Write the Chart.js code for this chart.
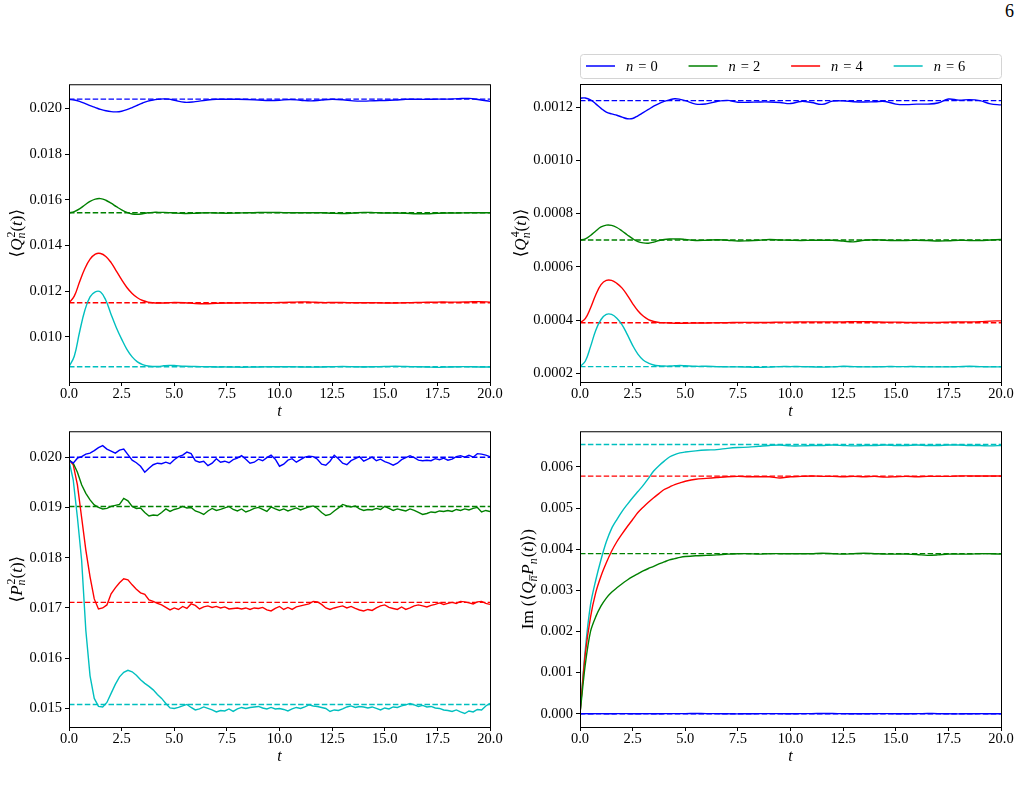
<!DOCTYPE html>
<html><head><meta charset="utf-8">
<script src="https://cdn.jsdelivr.net/npm/chart.js@4.4.1/dist/chart.umd.min.js"></script>
<style>
html,body{margin:0;padding:0;background:#fff}
body{width:1024px;height:798px;overflow:hidden;position:relative;font-family:'Liberation Serif','DejaVu Serif',serif}
canvas{position:absolute}
#pg{position:absolute;left:1005px;top:1px;font-size:18px;line-height:20px;color:#000}
</style></head><body>
<div id="pg">6</div>
<canvas id="cA" style="left:0;top:74px;width:510px;height:350px" width="510" height="350"></canvas>
<canvas id="cB" style="left:511px;top:44px;width:513px;height:380px" width="513" height="380"></canvas>
<canvas id="cC" style="left:0;top:421px;width:510px;height:348px" width="510" height="348"></canvas>
<canvas id="cD" style="left:511px;top:421px;width:513px;height:348px" width="513" height="348"></canvas>
<script>
// ---------- data ----------
const nValues = [0, 2, 4, 6];
const colors = ['#0000ff', '#008000', '#ff0000', '#00bfbf'];
const xTicks = [0, 2.5, 5, 7.5, 10, 12.5, 15, 17.5, 20];
const yTicksQ2 = [0.010, 0.012, 0.014, 0.016, 0.018, 0.020];
const yTicksQ4 = [0.0002, 0.0004, 0.0006, 0.0008, 0.0010, 0.0012];
const yTicksP2 = [0.015, 0.016, 0.017, 0.018, 0.019, 0.020];
const yTicksIm = [0.000, 0.001, 0.002, 0.003, 0.004, 0.005, 0.006];

const tSmooth = [0,0.25,0.5,0.75,1,1.25,1.5,1.75,2,2.25,2.5,2.75,3,3.25,3.5,3.75,4,4.25,4.5,4.75,5,
  5.5,6,6.5,7,7.5,8,8.5,9,9.5,10,10.5,11,11.5,12,12.5,13,13.5,14,14.5,15,15.5,16,16.5,17,17.5,18,18.5,19,19.5,20];
const tNoisy = [0,0.2,0.4,0.6,0.8,1,1.2,1.4,1.6,1.8,2,2.2,2.4,2.6,2.8,3,3.2,3.4,3.6,3.8,
  4,4.2,4.4,4.6,4.8,5,5.2,5.4,5.6,5.8,6,6.2,6.4,6.6,6.8,7,7.2,7.4,7.6,7.8,
  8,8.2,8.4,8.6,8.8,9,9.2,9.4,9.6,9.8,10,10.2,10.4,10.6,10.8,11,11.2,11.4,11.6,11.8,
  12,12.2,12.4,12.6,12.8,13,13.2,13.4,13.6,13.8,14,14.2,14.4,14.6,14.8,15,15.2,15.4,15.6,15.8,
  16,16.2,16.4,16.6,16.8,17,17.2,17.4,17.6,17.8,18,18.2,18.4,18.6,18.8,19,19.2,19.4,19.6,19.8,20];

// <Q_n^2(t)>
const q2n0 = [0.02039,0.02037,0.02031,0.02022,0.02012,0.02004,0.01996,0.01990,0.01986,0.01985,0.01988,0.01995,0.02004,0.02014,0.02024,0.02032,0.02037,0.02040,0.02042,0.02041,0.02036,
  0.02027,0.02030,0.02036,0.02040,0.02040,0.02040,0.02039,0.02037,0.02035,0.02036,0.02039,0.02036,0.02033,0.02037,0.02040,0.02038,0.02033,0.02032,0.02034,0.02035,0.02037,0.02040,0.02040,0.02040,0.02041,0.02041,0.02043,0.02044,0.02038,0.02031];
const q2n2 = [0.01543,0.01548,0.01560,0.01577,0.01593,0.01603,0.01605,0.01598,0.01585,0.01570,0.01556,0.01545,0.01538,0.01536,0.01539,0.01543,0.01545,0.01545,0.01545,0.01544,0.01542,
  0.01540,0.01541,0.01543,0.01542,0.01541,0.01542,0.01543,0.01544,0.01545,0.01544,0.01543,0.01543,0.01543,0.01543,0.01541,0.01540,0.01542,0.01545,0.01544,0.01542,0.01542,0.01541,0.01539,0.01539,0.01541,0.01542,0.01542,0.01543,0.01543,0.01543];
const q2n4 = [0.01149,0.01178,0.01240,0.01298,0.01340,0.01362,0.01365,0.01352,0.01325,0.01288,0.01250,0.01216,0.01190,0.01171,0.01159,0.01152,0.01149,0.01148,0.01148,0.01149,0.01150,
  0.01149,0.01146,0.01145,0.01147,0.01148,0.01148,0.01149,0.01149,0.01149,0.01150,0.01151,0.01153,0.01152,0.01150,0.01150,0.01150,0.01149,0.01149,0.01149,0.01148,0.01148,0.01149,0.01150,0.01151,0.01152,0.01152,0.01152,0.01153,0.01154,0.01152];
const q2n6 = [0.00869,0.00915,0.01020,0.01115,0.01175,0.01197,0.01196,0.01160,0.01098,0.01040,0.00990,0.00945,0.00912,0.00890,0.00878,0.00872,0.00870,0.00870,0.00873,0.00875,0.00874,
  0.00871,0.00870,0.00869,0.00868,0.00868,0.00867,0.00867,0.00868,0.00869,0.00869,0.00869,0.00868,0.00867,0.00868,0.00869,0.00870,0.00869,0.00868,0.00869,0.00870,0.00871,0.00870,0.00869,0.00868,0.00866,0.00868,0.00869,0.00869,0.00868,0.00868];
const q2Ref = [0.02041, 0.01543, 0.01149, 0.00869];

// <Q_n^4(t)>
const q4n0 = [0.001234,0.001235,0.001228,0.001213,0.001196,0.001182,0.001175,0.001170,0.001163,0.001157,0.001158,0.001168,0.001180,0.001192,0.001204,0.001214,0.001222,0.001228,0.001232,0.001230,0.001225,
  0.001212,0.001213,0.001222,0.001226,0.001219,0.001219,0.001220,0.001220,0.001218,0.001214,0.001222,0.001218,0.001211,0.001223,0.001224,0.001221,0.001220,0.001221,0.001222,0.001212,0.001210,0.001212,0.001212,0.001216,0.001231,0.001227,0.001229,0.001225,0.001213,0.001209];
const q4n2 = [0.000701,0.000705,0.000718,0.000735,0.000750,0.000757,0.000756,0.000748,0.000735,0.000720,0.000706,0.000695,0.000690,0.000689,0.000693,0.000699,0.000703,0.000705,0.000705,0.000705,0.000703,
  0.000699,0.000700,0.000702,0.000700,0.000697,0.000698,0.000700,0.000703,0.000701,0.000700,0.000699,0.000700,0.000700,0.000700,0.000697,0.000694,0.000700,0.000702,0.000700,0.000699,0.000699,0.000700,0.000699,0.000697,0.000698,0.000700,0.000699,0.000699,0.000701,0.000703];
const q4n4 = [0.000390,0.000405,0.000445,0.000495,0.000533,0.000549,0.000549,0.000538,0.000520,0.000493,0.000462,0.000435,0.000415,0.000402,0.000395,0.000391,0.000390,0.000389,0.000388,0.000388,0.000388,
  0.000389,0.000389,0.000390,0.000390,0.000391,0.000391,0.000391,0.000391,0.000392,0.000392,0.000393,0.000393,0.000393,0.000393,0.000393,0.000394,0.000394,0.000393,0.000392,0.000392,0.000391,0.000391,0.000391,0.000391,0.000392,0.000393,0.000393,0.000394,0.000396,0.000397];
const q4n6 = [0.000225,0.000245,0.000300,0.000362,0.000402,0.000421,0.000421,0.000407,0.000382,0.000345,0.000305,0.000272,0.000250,0.000238,0.000231,0.000228,0.000227,0.000227,0.000228,0.000229,0.000228,
  0.000226,0.000226,0.000225,0.000224,0.000224,0.000223,0.000222,0.000223,0.000225,0.000225,0.000225,0.000224,0.000223,0.000224,0.000226,0.000225,0.000224,0.000224,0.000225,0.000225,0.000225,0.000225,0.000224,0.000224,0.000224,0.000225,0.000226,0.000225,0.000224,0.000224];
const q4Ref = [0.001225, 0.000701, 0.000390, 0.000225];

// <P_n^2(t)>
const p2n0 = [0.01993,0.01988,0.01998,0.02001,0.02006,0.02008,0.02013,0.02019,0.02023,0.02016,
  0.02012,0.02008,0.02014,0.02016,0.02005,0.01994,0.01989,0.01982,0.01970,0.01978,
  0.01985,0.01988,0.01987,0.01990,0.01987,0.01995,0.02001,0.02004,0.02010,0.02007,
  0.01993,0.01990,0.01992,0.01983,0.01988,0.01997,0.01990,0.01992,0.01989,0.01995,
  0.01998,0.02003,0.01996,0.01988,0.01990,0.01996,0.01993,0.01999,0.02004,0.01996,
  0.01982,0.01986,0.01994,0.01997,0.01990,0.01995,0.02000,0.02002,0.02001,0.01996,
  0.01986,0.01984,0.01992,0.02004,0.01997,0.01988,0.01985,0.01993,0.01997,0.02001,
  0.01992,0.01996,0.02000,0.01993,0.01996,0.01991,0.01988,0.01984,0.01988,0.01995,
  0.01999,0.02003,0.01999,0.01994,0.01993,0.01994,0.01993,0.01997,0.01995,0.01998,
  0.01994,0.01996,0.02001,0.02003,0.02000,0.02004,0.02000,0.02007,0.02006,0.02004,0.02001];
const p2n2 = [0.01995,0.01988,0.01970,0.01945,0.01928,0.01915,0.01905,0.01900,0.01897,0.01898,
  0.01902,0.01904,0.01906,0.01918,0.01913,0.01902,0.01898,0.01899,0.01890,0.01883,
  0.01885,0.01884,0.01890,0.01897,0.01892,0.01896,0.01898,0.01902,0.01899,0.01900,
  0.01893,0.01890,0.01886,0.01893,0.01898,0.01894,0.01896,0.01899,0.01902,0.01896,
  0.01893,0.01897,0.01891,0.01894,0.01898,0.01900,0.01896,0.01892,0.01901,0.01897,
  0.01894,0.01897,0.01893,0.01896,0.01899,0.01895,0.01898,0.01901,0.01903,0.01898,
  0.01890,0.01884,0.01886,0.01893,0.01899,0.01906,0.01903,0.01901,0.01903,0.01897,
  0.01894,0.01896,0.01895,0.01898,0.01896,0.01902,0.01898,0.01894,0.01897,0.01895,
  0.01893,0.01897,0.01894,0.01890,0.01886,0.01888,0.01891,0.01890,0.01893,0.01892,
  0.01894,0.01892,0.01896,0.01894,0.01897,0.01895,0.01898,0.01900,0.01891,0.01894,0.01892];
const p2n4 = [0.01995,0.01985,0.01945,0.01880,0.01815,0.01762,0.01718,0.01698,0.01700,0.01706,
  0.01728,0.01740,0.01750,0.01758,0.01756,0.01746,0.01737,0.01730,0.01727,0.01716,
  0.01713,0.01709,0.01706,0.01701,0.01696,0.01700,0.01697,0.01703,0.01699,0.01708,
  0.01705,0.01698,0.01702,0.01704,0.01701,0.01703,0.01700,0.01702,0.01698,0.01699,
  0.01700,0.01698,0.01700,0.01697,0.01700,0.01699,0.01701,0.01696,0.01694,0.01699,
  0.01703,0.01697,0.01701,0.01697,0.01702,0.01704,0.01706,0.01708,0.01713,0.01712,
  0.01707,0.01700,0.01697,0.01700,0.01702,0.01704,0.01700,0.01703,0.01699,0.01696,
  0.01694,0.01697,0.01695,0.01700,0.01704,0.01706,0.01701,0.01699,0.01697,0.01702,
  0.01697,0.01700,0.01704,0.01706,0.01704,0.01702,0.01705,0.01707,0.01710,0.01707,
  0.01709,0.01711,0.01709,0.01713,0.01712,0.01710,0.01708,0.01712,0.01713,0.01709,0.01707];
const p2n6 = [0.01993,0.01955,0.01880,0.01795,0.01655,0.01565,0.01520,0.01504,0.01503,0.01512,
  0.01530,0.01548,0.01563,0.01572,0.01576,0.01573,0.01566,0.01557,0.01550,0.01544,
  0.01537,0.01528,0.01520,0.01510,0.01501,0.01500,0.01502,0.01505,0.01508,0.01502,
  0.01497,0.01499,0.01503,0.01500,0.01497,0.01493,0.01496,0.01495,0.01499,0.01494,
  0.01499,0.01502,0.01500,0.01502,0.01503,0.01504,0.01501,0.01499,0.01502,0.01499,
  0.01500,0.01498,0.01495,0.01499,0.01502,0.01500,0.01503,0.01507,0.01505,0.01504,
  0.01502,0.01500,0.01494,0.01497,0.01496,0.01499,0.01503,0.01505,0.01502,0.01504,
  0.01503,0.01501,0.01503,0.01500,0.01497,0.01501,0.01499,0.01503,0.01502,0.01505,
  0.01507,0.01510,0.01507,0.01504,0.01506,0.01503,0.01504,0.01501,0.01500,0.01497,
  0.01496,0.01494,0.01497,0.01493,0.01490,0.01495,0.01493,0.01498,0.01497,0.01505,0.01510];
const p2Ref = [0.02000, 0.01902, 0.01711, 0.01508];

// Im(<Q P(t)>)
const imn0 = [0,0.000002,-0.000001,0.000001,0.000002,0,-0.000002,0.000001,0.000003,0.000001,0,-0.000001,0.000001,0.000002,0,-0.000001,0.000001,0.000002,0.000003,0.000002,0.000003,
  0.000004,0.000003,0.000001,-0.000002,-0.000003,-0.000001,0.000001,0.000002,0.000001,0,0.000001,0.000003,0.000005,0.000004,0.000001,0,-0.000001,0.000001,0.000002,0,-0.000001,0.000002,0.000004,0.000002,-0.000002,-0.000004,-0.000001,0.000001,0,0];
const imn2 = [0,0.00119,0.00200,0.00236,0.00262,0.00281,0.00295,0.00306,0.00316,0.00325,0.00333,0.00340,0.00347,0.00353,0.00358,0.00364,0.00369,0.00374,0.00377,0.00380,0.00382,
  0.00384,0.00385,0.00386,0.00388,0.00389,0.00389,0.00388,0.00389,0.00389,0.00389,0.00389,0.00389,0.00390,0.00389,0.00388,0.00389,0.00390,0.00389,0.00388,0.00388,0.00388,0.00387,0.00385,0.00386,0.00388,0.00388,0.00388,0.00389,0.00389,0.00388];
const imn4 = [0,0.00145,0.00235,0.00295,0.00335,0.00367,0.00395,0.00418,0.00437,0.00455,0.00472,0.00489,0.00502,0.00514,0.00525,0.00535,0.00545,0.00551,0.00557,0.00561,0.00565,
  0.00570,0.00572,0.00574,0.00576,0.00577,0.00576,0.00576,0.00576,0.00573,0.00576,0.00577,0.00578,0.00577,0.00577,0.00576,0.00577,0.00576,0.00577,0.00575,0.00576,0.00577,0.00576,0.00577,0.00577,0.00577,0.00578,0.00578,0.00578,0.00578,0.00578];
const imn6 = [0,0.00155,0.00265,0.00325,0.00375,0.00418,0.00450,0.00472,0.00492,0.00509,0.00525,0.00540,0.00555,0.00572,0.00590,0.00603,0.00614,0.00624,0.00630,0.00634,0.00636,
  0.00639,0.00641,0.00642,0.00645,0.00647,0.00648,0.00650,0.00652,0.00653,0.00651,0.00651,0.00652,0.00652,0.00653,0.00652,0.00651,0.00652,0.00652,0.00653,0.00652,0.00652,0.00653,0.00652,0.00652,0.00653,0.00653,0.00652,0.00652,0.00651,0.00652];
const imRef = [0, 0.003891, 0.005774, 0.006543];

// ---------- drawing helpers ----------
const FONT = "'Liberation Serif','DejaVu Serif',serif";
const FS = 14.5;
const TFS = 17;
function fnt(it, size){ return (it ? 'italic ' : '') + size + 'px ' + FONT; }
function runsWidth(ctx, runs, size){
  let w = 0;
  for (const r of runs){
    if (r.t !== undefined){ ctx.font = fnt(r.it, size); w += ctx.measureText(r.t).width; }
    else { const s = size*0.7; let ws = 0, wp = 0;
      if (r.sub){ ctx.font = fnt(true, s); ws = ctx.measureText(r.sub).width; }
      if (r.sup){ ctx.font = fnt(false, s); wp = ctx.measureText(r.sup).width; }
      w += Math.max(ws, wp) + 1; }
  }
  return w;
}
function drawRuns(ctx, runs, size, x0){
  let x = x0;
  for (const r of runs){
    if (r.t !== undefined){ ctx.font = fnt(r.it, size); ctx.fillText(r.t, x, 0); x += ctx.measureText(r.t).width; }
    else { const s = size*0.7; let ws = 0, wp = 0;
      if (r.sub){ ctx.font = fnt(true, s); ctx.fillText(r.sub, x, size*0.22); ws = ctx.measureText(r.sub).width;
        if (r.bar){ ctx.fillRect(x + 1, size*0.22 - s*0.62, ws, 0.8); } }
      if (r.sup){ ctx.font = fnt(false, s); ctx.fillText(r.sup, x + 1, -size*0.40); wp = ctx.measureText(r.sup).width; }
      x += Math.max(ws, wp) + 1; }
  }
}

function decoPlugin(cfg){
  return {
    id: 'deco',
    afterDraw(chart){
      const ctx = chart.ctx, a = chart.chartArea;
      ctx.save();
      ctx.strokeStyle = '#000'; ctx.lineWidth = 1;
      ctx.strokeRect(a.left + 0.5, a.top + 0.5, a.right - a.left, a.bottom - a.top);
      ctx.fillStyle = '#000';
      ctx.font = fnt(true, 16); ctx.textAlign = 'center'; ctx.textBaseline = 'alphabetic';
      ctx.fillText('t', (a.left + a.right)/2, a.bottom + 34);
      ctx.save();
      ctx.translate(cfg.ylx, (a.top + a.bottom)/2);
      ctx.rotate(-Math.PI/2);
      ctx.textAlign = 'left';
      const w = runsWidth(ctx, cfg.yRuns, TFS);
      drawRuns(ctx, cfg.yRuns, TFS, -w/2);
      ctx.restore();
      if (cfg.legend){
        const L = a.left, R = a.right, T = 10, B = 34;
        ctx.fillStyle = '#fff'; ctx.strokeStyle = '#d4d4d4'; ctx.lineWidth = 1;
        ctx.beginPath(); ctx.roundRect(L + 0.5, T + 0.5, R - L, B - T, 3); ctx.fill(); ctx.stroke();
        const step = (R - L - 12) / 4 + 0.3;
        nValues.forEach((n, i) => {
          const x0 = L + 6 + i*step;
          ctx.strokeStyle = colors[i]; ctx.lineWidth = 1.5;
          ctx.beginPath(); ctx.moveTo(x0, 22); ctx.lineTo(x0 + 29, 22); ctx.stroke();
          ctx.fillStyle = '#000'; ctx.textAlign = 'left';
          ctx.font = fnt(true, FS); ctx.fillText('n', x0 + 40, 27);
          const wn = ctx.measureText('n').width;
          ctx.font = fnt(false, FS);
          ctx.fillText('=', x0 + 40 + wn + 5, 27);
          const we = ctx.measureText('=').width;
          ctx.fillText(String(n), x0 + 40 + wn + 5 + we + 4, 27);
        });
      }
      ctx.restore();
    }
  };
}

function makeChart(id, times, series, refs, yTicks, yMin, yMax, dec, tension, padRight, padTop, yRuns, ylx, legend){
  const datasets = [];
  series.forEach((arr, i) => {
    datasets.push({
      label: 'n = ' + nValues[i],
      data: times.map((t, k) => ({x: t, y: arr[k]})),
      borderColor: colors[i], borderWidth: 1.4, pointRadius: 0, fill: false,
      tension: tension
    });
  });
  refs.forEach((v, i) => {
    datasets.push({
      label: 'ref ' + nValues[i],
      data: [{x: xTicks[0], y: v}, {x: xTicks[xTicks.length - 1], y: v}],
      borderColor: colors[i], borderWidth: 1.4, borderDash: [5.5, 2.4], pointRadius: 0, fill: false
    });
  });
  return new Chart(document.getElementById(id), {
    type: 'line',
    data: { datasets },
    options: {
      responsive: false, animation: false, devicePixelRatio: 1,
      layout: { padding: { left: 0, top: padTop, right: padRight, bottom: 0 } },
      plugins: { legend: { display: false }, tooltip: { enabled: false } },
      scales: {
        x: {
          type: 'linear', min: 0, max: 20,
          afterFit(s){ s.height = 42; },
          afterBuildTicks(s){ s.ticks = xTicks.map(v => ({value: v})); },
          ticks: { autoSkip: false, maxRotation: 0, color: '#000', padding: 1,
                   font: { family: FONT, size: FS, lineHeight: 1 },
                   callback: v => Number(v).toFixed(1) },
          grid: { drawOnChartArea: false, drawTicks: true, tickLength: 4, color: '#000', lineWidth: 1 },
          border: { display: false }
        },
        y: {
          type: 'linear', min: yMin, max: yMax,
          afterFit(s){ s.width = 69; },
          afterBuildTicks(s){ s.ticks = yTicks.map(v => ({value: v})); },
          ticks: { autoSkip: false, color: '#000', padding: 3,
                   font: { family: FONT, size: FS, lineHeight: 1 },
                   callback: v => Number(v).toFixed(dec) },
          grid: { drawOnChartArea: false, drawTicks: true, tickLength: 4, color: '#000', lineWidth: 1 },
          border: { display: false }
        }
      }
    },
    plugins: [decoPlugin({ yRuns, ylx, legend })]
  });
}

const labQ2 = [{t:'⟨'},{t:'Q',it:true},{sub:'n',sup:'2'},{t:'('},{t:'t',it:true},{t:')⟩'}];
const labQ4 = [{t:'⟨'},{t:'Q',it:true},{sub:'n',sup:'4'},{t:'('},{t:'t',it:true},{t:')⟩'}];
const labP2 = [{t:'⟨'},{t:'P',it:true},{sub:'n',sup:'2'},{t:'('},{t:'t',it:true},{t:')⟩'}];
const labIm = [{t:'Im'},{t:' (⟨'},{t:'Q',it:true},{sub:'n',bar:true},{t:'P',it:true},{sub:'n'},{t:'('},{t:'t',it:true},{t:')⟩)'}];

makeChart('cA', tSmooth, [q2n0, q2n2, q2n4, q2n6], q2Ref, yTicksQ2, 0.00802, 0.02106, 3, 0.4, 20, 10, labQ2, 21.5, false);
makeChart('cB', tSmooth, [q4n0, q4n2, q4n4, q4n6], q4Ref, yTicksQ4, 0.000167, 0.0012876, 4, 0.4, 23, 40, labQ4, 15, true);
makeChart('cC', tNoisy, [p2n0, p2n2, p2n4, p2n6], p2Ref, yTicksP2, 0.014631, 0.020516, 3, 0, 20, 10, labP2, 21.5, false);
makeChart('cD', tSmooth, [imn0, imn2, imn4, imn6], imRef, yTicksIm, -0.000323, 0.006866, 3, 0.3, 23, 10, labIm, 22, false);
</script>
</body></html>
